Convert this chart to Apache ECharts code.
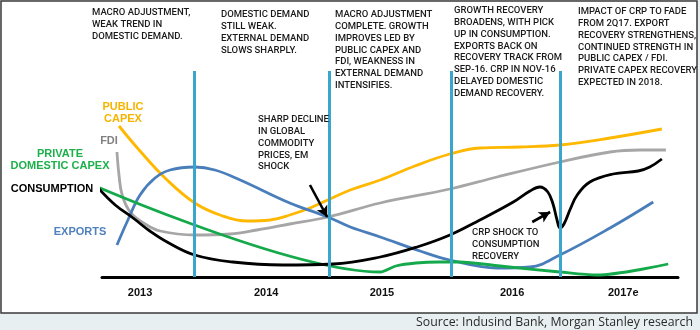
<!DOCTYPE html>
<html>
<head>
<meta charset="utf-8">
<script src="https://cdn.jsdelivr.net/npm/echarts@6/dist/echarts.min.js"></script>
<style>
html,body{margin:0;padding:0;background:#e7eff1;}
#c{width:700px;height:330px;}
</style>
</head>
<body>
<div id="c"></div>
<script>
// ---- data (x: position along the timeline 0..100, y: relative level) ----
const yearLabels = ['2013', '2014', '2015', '2016', '2017e'];
const yearPos = [6.6, 28.5, 48.6, 71.2, 90.5];
const periodBounds = [16.1, 39.4, 60.6, 79.5];

const publicCapex = [[2.95,75.5],[6.6,63],[11.3,48.5],[16.1,37],[20.5,31],[25.2,28],[29.2,28.5],[32.6,31],[36.1,34.5],[39.2,38.5],[43.1,43.5],[48.3,48.5],[54.3,55.5],[60.4,61.5],[65.6,64.5],[72.6,65],[79.5,66],[88.2,69.5],[97.2,74]];
const fdi = [[2.6,62.5],[2.95,51],[3.5,41],[4.9,32.5],[7.5,26.5],[10.1,23],[16.1,21],[22.2,21.5],[26.9,23.5],[32.6,26.5],[39.2,30],[48.3,37],[60.4,44],[68.6,50],[79.5,57.5],[88.2,62.5],[93.4,63.5],[97.9,63.5]];
const exportsS = [[2.6,16],[4.5,28.5],[6.6,41],[9.2,49.5],[11.8,53.5],[16.1,55],[19.6,53.5],[24,48.5],[32.6,37],[39.2,30],[43.1,25],[48.3,20],[55.2,13],[60.4,8.5],[68.6,4.5],[74.3,5],[79.5,11],[88.2,24.5],[95.7,37.5]];
const consumption = [[-1.2,47],[-0.35,43.5],[2.3,36],[5.4,29.5],[8.3,23],[11.3,17.5],[16.1,11],[22.7,7.5],[31.4,6],[40.1,6.5],[48.3,10],[54.7,15],[60.4,21],[65.6,28.5],[71.4,37.5],[74.3,43],[76.0,45],[77.4,42.5],[78.3,36.5],[79.0,28.5],[79.5,24.5],[80.2,26.5],[81.3,34],[82.5,41],[84.7,47.5],[88.7,51.5],[93.1,53],[95.1,55],[97.2,59]];
const privateCapex = [[-5.9,51.5],[48.3,2.5],[51.0,5.5],[54.5,7],[58.5,7.5],[62,7.5],[69.1,5.5],[79.5,2.5],[85.9,1],[98.3,6.5]];

// annotation arrows (data coordinates): [from, to]
const arrowCommodity = [[36.1,46],[39.1,30]];
const arrowCRP = [[74.7,27.5],[77.8,32.5]];

const notes = [
  {x:92, y:7, t:'MACRO ADJUSTMENT,\nWEAK TREND IN\nDOMESTIC DEMAND.'},
  {x:221, y:9, t:'DOMESTIC DEMAND\nSTILL WEAK.\nEXTERNAL DEMAND\nSLOWS SHARPLY.'},
  {x:335, y:9, t:'MACRO ADJUSTMENT\nCOMPLETE. GROWTH\nIMPROVES LED BY\nPUBLIC CAPEX AND\nFDI, WEAKNESS IN\nEXTERNAL DEMAND\nINTENSIFIES.'},
  {x:454, y:5, t:'GROWTH RECOVERY\nBROADENS, WITH PICK\nUP IN CONSUMPTION.\nEXPORTS BACK ON\nRECOVERY TRACK FROM\nSEP-16. CRP IN NOV-16\nDELAYED DOMESTIC\nDEMAND RECOVERY.'},
  {x:578, y:6, t:'IMPACT OF CRP TO FADE\nFROM 2Q17. EXPORT\nRECOVERY STRENGTHENS,\nCONTINUED STRENGTH IN\nPUBLIC CAPEX / FDI.\nPRIVATE CAPEX RECOVERY\nEXPECTED IN 2018.'},
  {x:258, y:114, t:'SHARP DECLINE\nIN GLOBAL\nCOMMODITY\nPRICES, EM\nSHOCK'},
  {x:472, y:227, t:'CRP SHOCK TO\nCONSUMPTION\nRECOVERY'}
];

const C = {orange:'#FFB800', gray:'#A6A6A6', blue:'#4A7EBB', black:'#000000', green:'#14A94A', vline:'#3BA6CB'};

const chart = echarts.init(document.getElementById('c'), null, {renderer:'canvas'});

function lineSeries(name, data, color, smooth) {
  return {
    name, type:'line', data, smooth, clip:false, showSymbol:false, symbol:'none',
    lineStyle:{color, width:2.8}, z:3, silent:true
  };
}

const graphics = [
  {type:'rect', shape:{x:0,y:0,width:700,height:330}, style:{fill:'#e7eff1'}, z:-10, silent:true},
  {type:'rect', shape:{x:1,y:1,width:696,height:312}, style:{fill:'#ffffff', stroke:'#3a3a3a', lineWidth:1.5}, z:-9, silent:true}
];
notes.forEach(n => graphics.push({
  type:'text', x:n.x, y:n.y, z:10, silent:true,
  style:{text:n.t, font:'500 9.5px Roboto', fill:'#1a1a1a', lineHeight:11.8, textAlign:'left', textVerticalAlign:'top'}
}));
const seriesLabels = [
  {x:123, y:113, t:'PUBLIC\nCAPEX', c:'#F5B400', lh:11.5},
  {x:109, y:141, t:'FDI', c:'#808080', lh:12},
  {x:60, y:160, t:'PRIVATE\nDOMESTIC CAPEX', c:'#1DB04B', lh:11.5},
  {x:52, y:189, t:'CONSUMPTION', c:'#000000', lh:12},
  {x:80, y:232, t:'EXPORTS', c:'#4F81BD', lh:12}
];
seriesLabels.forEach(s => graphics.push({
  type:'text', x:s.x, y:s.y, z:10, silent:true,
  style:{text:s.t, font:'bold 11px "Liberation Sans", Arial', fill:s.c, lineHeight:s.lh, textAlign:'center', textVerticalAlign:'middle'}
}));
graphics.push({
  type:'text', x:693, y:322, z:10, silent:true,
  style:{text:'Source: Indusind Bank, Morgan Stanley research', font:'12.3px "Open Sans"', fill:'#2a2a2a', textAlign:'right', textVerticalAlign:'middle'}
});

const option = {
  animation:false,
  backgroundColor:'transparent',
  grid:{left:102, right:22, top:57, bottom:53},
  xAxis:{
    type:'value', min:0, max:100,
    axisLine:{show:true, onZero:false, lineStyle:{color:'#000', width:3}},
    axisTick:{show:false},
    splitLine:{show:false},
    axisLabel:{
      customValues: yearPos,
      formatter: v => { const i = yearPos.findIndex(p => Math.abs(p - v) < 1e-6); return i >= 0 ? yearLabels[i] : ''; },
      margin:10, color:'#111', fontFamily:'"Liberation Sans", Arial', fontWeight:'bold', fontSize:11
    }
  },
  yAxis:{type:'value', min:0, max:110, show:false, splitLine:{show:false}},
  graphic: graphics,
  series:[
    {
      name:'periods', type:'line', data:[], z:1, silent:true,
      markLine:{
        silent:true, symbol:['none','none'], animation:false,
        label:{show:false},
        lineStyle:{color:C.vline, width:3, type:'solid'},
        data: periodBounds.map(x => [{coord:[x,0]},{coord:[x,103]}])
      }
    },
    lineSeries('FDI', fdi, C.gray, 0.4),
    lineSeries('Public capex', publicCapex, C.orange, 0.4),
    lineSeries('Exports', exportsS, C.blue, 0.4),
    lineSeries('Private domestic capex', privateCapex, C.green, 0.3),
    lineSeries('Consumption', consumption, C.black, 0.4),
    {
      name:'arrows', type:'line', data:[], z:5, silent:true,
      markLine:{
        silent:true, symbol:['none','arrow'], symbolSize:[9,11], animation:false,
        label:{show:false},
        lineStyle:{color:'#000', width:2.6, type:'solid'},
        data:[
          [{coord:arrowCommodity[0]},{coord:arrowCommodity[1]}],
          [{coord:arrowCRP[0]},{coord:arrowCRP[1]}]
        ]
      }
    }
  ]
};
chart.setOption(option);
</script>
</body>
</html>
